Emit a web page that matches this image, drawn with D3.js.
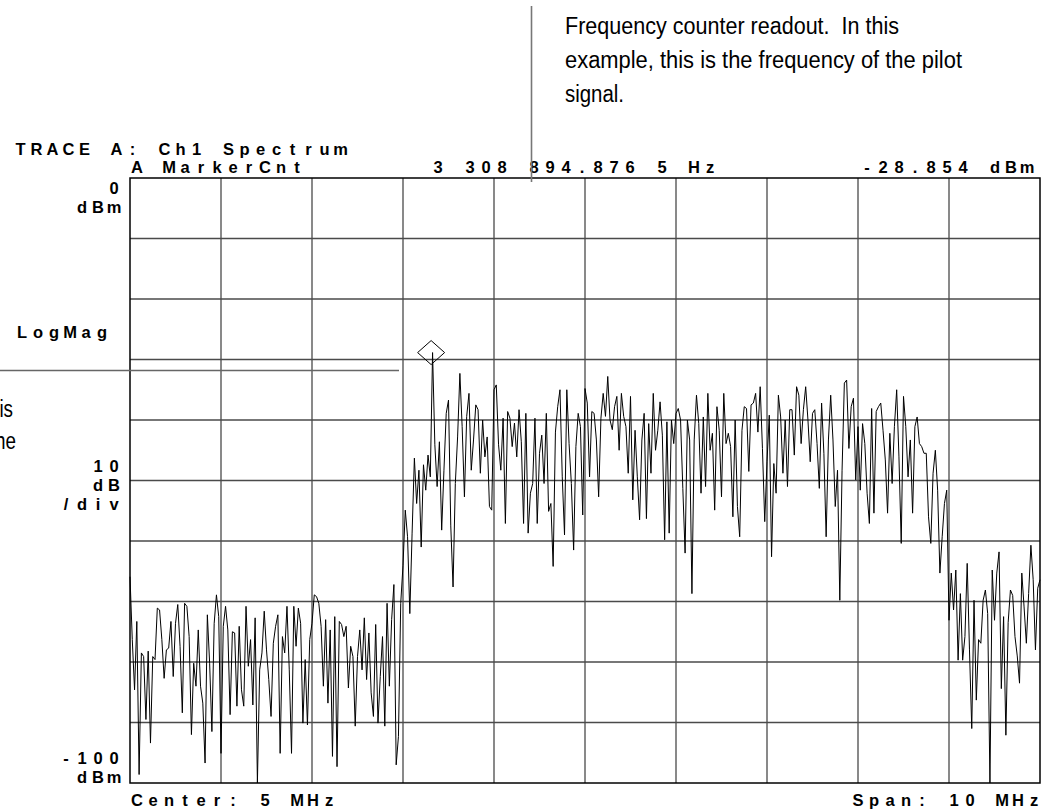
<!DOCTYPE html>
<html>
<head>
<meta charset="utf-8">
<script src="https://cdn.jsdelivr.net/npm/d3@7"></script>
<style>
  html, body { margin: 0; padding: 0; background: #fff; }
  svg { display: block; }
  .scr { font-family: "Liberation Sans", Arial, sans-serif; font-weight: bold; font-size: 16.5px; fill: #000; }
  .note { font-family: "Liberation Sans", Arial, sans-serif; font-size: 23px; fill: #000; white-space: pre; }
</style>
</head>
<body>
<svg id="chart" width="1049" height="811"></svg>
<script>
// Trace A, channel 1 spectrum: 401 bins across 0..10 MHz, level in dBm
const traceDbm = [
  -65.9, -76.3, -84.6, -73.3, -98.6, -78.5, -79.1, -89.5, -78.2, -93.4,
  -79.1, -79.6, -71.1, -71.4, -76.3, -82.7, -78.0, -77.7, -73.3, -82.4,
  -73.6, -70.5, -77.4, -88.4, -70.3, -70.8, -75.8, -92.0, -80.2, -84.0,
  -74.7, -84.0, -86.8, -96.7, -72.2, -80.2, -91.5, -73.6, -68.9, -72.5,
  -95.1,
  -74.1, -70.8, -74.7, -88.7, -75.0, -75.2, -87.3, -74.1, -84.6, -87.3,
  -70.8, -80.7, -76.3, -87.1, -72.7, -100, -81.3, -78.5, -71.6, -78.0,
  -82.9, -89.0, -76.9, -74.1, -72.2, -95.1, -75.8, -78.5, -70.8, -81.3,
  -95.1, -70.8, -77.4, -71.1, -73.6, -90.1, -79.6, -90.4, -76.3, -73.6,
  -68.9, -69.2, -70.3, -74.1, -84.0, -73.0, -86.8, -74.7, -95.6, -72.5,
  -97.3, -73.3, -73.8, -75.8, -74.1, -84.3, -77.4, -79.1, -90.6, -79.1,
  -74.7, -81.3, -72.7, -82.9, -75.2, -85.1, -89.0, -73.8, -90.1, -82.4,
  -75.8, -90.6, -70.3, -84.0, -73.0, -67.2, -97.0, -92.3, -70.3,
  -64.0, -54.9, -59.3, -72.0, -58.7, -46.3, -53.8, -48.3, -61.0, -47.4,
  -51.6, -45.8, -49.4, -28.854, -44.1, -51.0, -43.6, -58.2, -48.3, -38.9,
  -36.7, -57.5, -67.6, -50.5, -42.8, -32.3, -41.1, -52.7, -39.4, -35.6,
  -48.3, -43.3, -37.5, -38.3, -48.8, -40.0, -46.1, -42.8, -54.3, -54.9,
  -35.0,
  -34.2, -44.1, -48.3, -39.7, -57.1, -38.6, -39.7, -44.4, -40.5, -46.1,
  -38.3, -43.6, -57.1, -38.9, -58.7, -52.1, -50.5, -39.7, -57.1, -45.5,
  -42.5, -50.5, -38.9, -55.1, -53.8, -64.2, -42.0, -37.8, -35.0, -49.4,
  -59.0, -35.0, -43.9, -50.5, -61.5, -44.4, -38.9, -41.1, -55.7, -34.8,
  -37.2, -49.4, -38.6, -38.9, -43.3, -52.7, -39.7, -35.6, -39.4, -32.8,
  -40.0, -41.6, -37.8, -36.1, -45.0, -35.6, -39.4, -41.1, -48.8, -36.1,
  -53.2, -41.7, -49.4, -56.5, -43.3, -38.9, -56.3, -40.6, -48.8, -35.6,
  -45.0, -41.7, -37.0, -42.5, -59.8, -40.3, -58.7, -40.0, -43.9, -38.9,
  -38.1, -40.0, -51.3, -62.0, -40.0, -43.3, -68.7, -43.3, -35.9, -40.6,
  -52.1, -39.5, -51.0, -35.6, -45.0, -42.2, -54.9, -37.8, -41.7, -52.7,
  -35.6, -43.9, -42.2, -44.4, -56.0, -40.0, -54.3, -59.3, -41.7, -37.8,
  -38.1, -48.5, -37.5, -37.2, -35.6, -42.0, -34.5, -44.7, -56.8, -46.9,
  -39.2, -62.6, -47.2, -52.1, -35.9, -39.5, -48.8, -40.0, -51.0, -38.3,
  -38.3, -45.8, -34.5, -35.9, -43.9, -38.3, -34.5, -40.0, -46.9, -38.9,
  -38.3, -43.9, -51.3, -37.2, -45.5, -59.3, -43.3,
  -35.9, -43.3, -54.3, -48.3, -69.8, -48.3, -33.9, -33.4, -44.7, -37.8,
  -36.4, -49.9, -41.1, -51.6, -40.6, -43.9, -52.1, -57.1, -38.1, -55.4,
  -38.6, -37.8, -37.2, -41.7, -46.6, -55.4, -42.2, -50.5, -41.1, -35.0,
  -46.1, -60.4, -36.1, -41.1, -49.4, -43.3, -55.4, -41.1, -39.5, -43.9,
  -44.4, -45.5, -45.5, -56.0, -60.4, -48.8, -45.0, -51.6, -65.3, -59.3,
  -53.8, -51.6, -73.1, -65.3, -71.4, -64.8, -79.7, -68.7, -79.7, -75.8,
  -63.7, -78.0, -91.0, -69.8, -86.3, -76.3, -76.9, -69.8, -68.1, -72.0,
  -100, -64.8, -73.1, -65.3, -61.8, -84.4, -72.5, -92.1, -73.5, -68.1,
  -69.0, -75.8, -79.0, -83.5, -65.3, -70.9, -76.9, -68.7, -60.7, -66.4,
  -78.0, -67.8, -66.4
];

// Display settings
const spanMHz = [0, 10];            // center 5 MHz, span 10 MHz
const levelRangeDbm = [-100, 0];    // ref level 0 dBm, 10 dB/div
const freqDivisions = d3.range(0, 11, 1);
const levelDivisions = d3.range(-100, 1, 10);

// Marker (frequency counter readout)
const markerFreqHz = 3308894.8765;
const markerDbm = -28.854;

// Screen annotations
const titleRow = "TRACE A: Ch1 Spectrum";
const markerRow = ["A MarkerCnt", "3 308 894.876 5 Hz", "-28.854 dBm"];
const topScaleLabel = ["0", "dBm"];
const formatLabel = ["LogMag"];
const scaleLabel = ["10", "dB", "/div"];
const bottomScaleLabel = ["-100", "dBm"];
const footer = ["Center: 5 MHz", "Span: 10 MHz"];
const calloutTop = [
  "Frequency counter readout.  In this",
  "example, this is the frequency of the pilot",
  "signal."
];
const calloutTopWidth = [334, 397, 59];
const calloutLeft = ["this", "the"];

const svg = d3.select("#chart");
const plot = { left: 130, right: 1040, top: 178, bottom: 783 };
const pitch = 16;

const x = d3.scaleLinear().domain(spanMHz).range([plot.left, plot.right]);
const y = d3.scaleLinear().domain(levelRangeDbm).range([plot.bottom, plot.top]);

// Graticule
const grid = svg.append("g");
grid.selectAll("line.v").data(freqDivisions.slice(1, -1)).join("line")
  .attr("x1", d => x(d)).attr("x2", d => x(d))
  .attr("y1", plot.top).attr("y2", plot.bottom)
  .attr("stroke", "#4a4a4a").attr("stroke-width", 1.3);
grid.selectAll("line.h").data(levelDivisions.slice(1, -1)).join("line")
  .attr("x1", plot.left).attr("x2", plot.right)
  .attr("y1", d => y(d)).attr("y2", d => y(d))
  .attr("stroke", "#4a4a4a").attr("stroke-width", 1.3);
grid.append("rect")
  .attr("x", plot.left).attr("y", plot.top)
  .attr("width", plot.right - plot.left).attr("height", plot.bottom - plot.top)
  .attr("fill", "none").attr("stroke", "#000").attr("stroke-width", 1.5);

// Spectrum trace
const n = traceDbm.length;
const binMHz = i => spanMHz[0] + i * (spanMHz[1] - spanMHz[0]) / (n - 1);
const line = d3.line().x((d, i) => x(binMHz(i))).y(d => y(d));
svg.append("path").datum(traceDbm)
  .attr("d", line)
  .attr("fill", "none").attr("stroke", "#000").attr("stroke-width", 1)
  .attr("stroke-linejoin", "miter");

// Marker diamond
const mx = x(markerFreqHz / 1e6), my = y(markerDbm);
const hw = 13.5, hh = 12;
svg.append("path")
  .attr("d", `M${mx},${my - hh}L${mx + hw},${my}L${mx},${my + hh}L${mx - hw},${my}Z`)
  .attr("fill", "none").attr("stroke", "#000").attr("stroke-width", 1);

// Fixed-pitch instrument text: one glyph per cell, centred in the cell
function cells(str, x0, baseline) {
  svg.append("text").attr("class", "scr")
    .attr("x", Array.from(str).map((c, i) => x0 + i * pitch).join(" "))
    .attr("y", baseline)
    .attr("text-anchor", "middle")
    .text(str);
}
// right-aligned: last glyph centred on xLast
function cellsRight(str, xLast, baseline) {
  cells(str, xLast - (str.length - 1) * pitch, baseline);
}

cells(titleRow, 20.5, 155);
cells(markerRow[0], 137, 173);
cells(markerRow[1], 438, 173);
cellsRight(markerRow[2], 1027, 173);

cellsRight(topScaleLabel[0], 114, 194);
cellsRight(topScaleLabel[1], 114, 213);
cells(formatLabel[0], 22, 338);
cellsRight(scaleLabel[0], 114, 472);
cellsRight(scaleLabel[1], 114, 491);
cellsRight(scaleLabel[2], 114, 510);
cellsRight(bottomScaleLabel[0], 114, 764);
cellsRight(bottomScaleLabel[1], 114, 783);
cells(footer[0], 137, 806);
cellsRight(footer[1], 1034, 806);

// Callouts
svg.append("line")
  .attr("x1", 531.5).attr("x2", 531.5).attr("y1", 6).attr("y2", 182)
  .attr("stroke", "#777").attr("stroke-width", 1.6);
svg.append("line")
  .attr("x1", 0).attr("x2", 399).attr("y1", 370.5).attr("y2", 370.5)
  .attr("stroke", "#666").attr("stroke-width", 1.3);

svg.selectAll("text.top").data(calloutTop).join("text")
  .attr("class", "note")
  .attr("x", 565).attr("y", (d, i) => 34 + i * 34)
  .attr("textLength", (d, i) => calloutTopWidth[i])
  .attr("lengthAdjust", "spacingAndGlyphs")
  .text(d => d);

svg.selectAll("text.left").data(calloutLeft).join("text")
  .attr("class", "note")
  .attr("text-anchor", "end")
  .attr("transform", (d, i) => `translate(${[13, 16][i]},${417 + i * 32}) scale(0.82,1)`)
  .text(d => d);
</script>
</body>
</html>
